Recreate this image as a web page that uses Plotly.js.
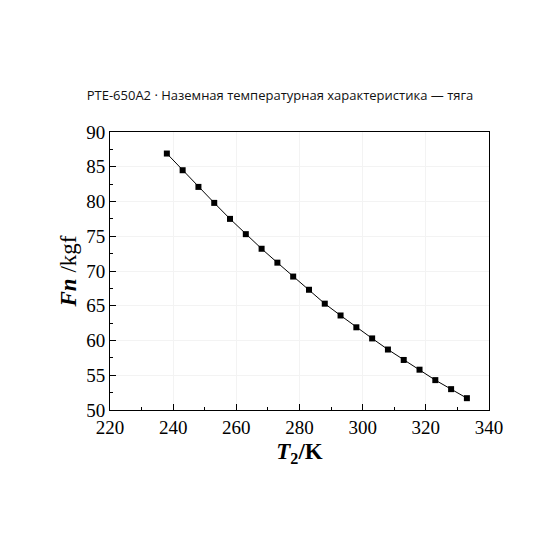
<!DOCTYPE html>
<html><head><meta charset="utf-8">
<script src="https://cdn.plot.ly/plotly-3.0.1.min.js"></script>
<style>html,body{margin:0;padding:0;background:#fff}</style>
</head><body>
<div id="chart" style="width:560px;height:560px"></div>
<script>
const temperatureK = [238,243,248,253,258,263,268,273,278,283,288,293,298,303,308,313,318,323,328,333];
const thrustKgf = [86.9,84.5,82.1,79.8,77.5,75.3,73.2,71.2,69.2,67.3,65.3,63.6,61.9,60.3,58.7,57.2,55.8,54.3,53.0,51.7];
const chartTitle = 'PTE-650A2 · Наземная температурная характеристика — тяга';

const axisFont = {family: '"Liberation Serif", "Times New Roman", serif', size: 19, color: '#000'};
Plotly.newPlot('chart', [{
  x: temperatureK, y: thrustKgf, type: 'scatter', mode: 'lines+markers',
  line: {color: '#000', width: 1},
  marker: {symbol: 'square', size: 6, color: '#000'}
}], {
  width: 560, height: 560,
  margin: {l: 110, r: 71, t: 132, b: 150},
  paper_bgcolor: '#fff', plot_bgcolor: '#fff',
  showlegend: false,
  title: {text: chartTitle, x: 0.5, xanchor: 'center', y: 0.83, yanchor: 'middle',
    font: {family: '"Open Sans", "Noto Sans", sans-serif', size: 13, color: '#111'}},
  xaxis: {
    range: [220, 340], dtick: 20, tick0: 220,
    showline: true, mirror: true, linecolor: '#000', linewidth: 1,
    ticks: 'inside', ticklen: 6, tickcolor: '#000',
    minor: {dtick: 10, ticks: 'inside', ticklen: 3, tickcolor: '#000', showgrid: false},
    showgrid: true, gridcolor: '#f3f3f3', zeroline: false,
    tickfont: axisFont,
    title: {text: '<b><i>T</i><sub>2</sub>/K</b>', standoff: 6,
      font: {family: '"Liberation Serif", "Times New Roman", serif', size: 23, color: '#000'}}
  },
  yaxis: {
    range: [50, 90], dtick: 5, tick0: 50,
    showline: true, mirror: true, linecolor: '#000', linewidth: 1,
    ticks: 'inside', ticklen: 6, tickcolor: '#000',
    minor: {dtick: 2.5, ticks: 'inside', ticklen: 3, tickcolor: '#000', showgrid: false},
    showgrid: true, gridcolor: '#f3f3f3', zeroline: false,
    tickfont: axisFont,
    title: {text: '<b><i>Fn</i></b> /kgf', standoff: 3,
      font: {family: '"Liberation Serif", "Times New Roman", serif', size: 23, color: '#000'}}
  }
}, {displayModeBar: false, staticPlot: true});
</script>
</body></html>
